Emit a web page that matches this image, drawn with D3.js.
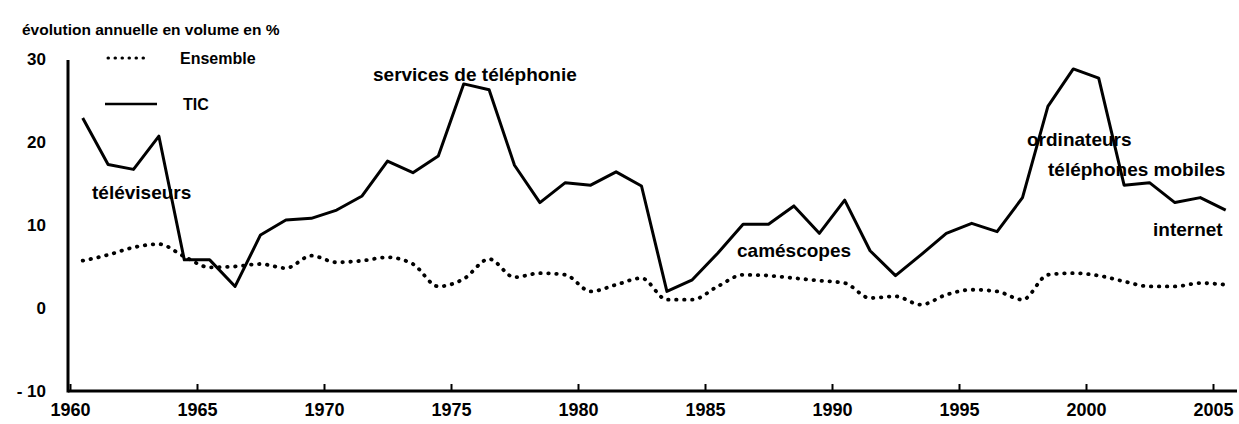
<!DOCTYPE html>
<html>
<head>
<meta charset="utf-8">
<script src="https://cdn.jsdelivr.net/npm/d3@7"></script>
<style>
  body { margin: 0; background: #fff; }
  svg { display: block; }
  text { font-family: "Liberation Sans", Arial, Helvetica, sans-serif; font-weight: bold; fill: #000; }
  .axis text { font-size: 18px; }
  .axis line { stroke: #000; stroke-width: 2; }
  .axis path { display: none; }
</style>
</head>
<body>
<div id="chart"></div>
<script>
// annual growth in volume, %, 1960-2005
var years = [1960, 1961, 1962, 1963, 1964, 1965, 1966, 1967, 1968, 1969,
  1970, 1971, 1972, 1973, 1974, 1975, 1976, 1977, 1978, 1979,
  1980, 1981, 1982, 1983, 1984, 1985, 1986, 1987, 1988, 1989,
  1990, 1991, 1992, 1993, 1994, 1995, 1996, 1997, 1998, 1999,
  2000, 2001, 2002, 2003, 2004, 2005];

var ticValues = [22.9, 17.3, 16.7, 20.7, 5.8, 5.8, 2.6, 8.8, 10.6, 10.8,
  11.8, 13.5, 17.7, 16.3, 18.3, 27.0, 26.3, 17.2, 12.7, 15.1,
  14.8, 16.4, 14.7, 2.0, 3.4, 6.6, 10.1, 10.1, 12.3, 9.0,
  13.0, 6.9, 3.9, 6.4, 9.0, 10.2, 9.2, 13.3, 24.3, 28.8,
  27.7, 14.8, 15.1, 12.7, 13.3, 11.8];

var ensembleValues = [5.7, 6.4, 7.3, 7.7, 6.2, 4.9, 5.0, 5.3, 4.8, 6.3,
  5.5, 5.7, 6.1, 5.3, 2.6, 3.5, 5.9, 3.7, 4.2, 4.0,
  2.0, 2.8, 3.6, 1.0, 1.0, 2.6, 4.0, 3.9, 3.6, 3.3,
  3.0, 1.2, 1.4, 0.4, 1.6, 2.2, 2.0, 1.0, 4.0, 4.2,
  3.9, 3.2, 2.6, 2.6, 3.0, 2.8];

var xTicks = [1960, 1965, 1970, 1975, 1980, 1985, 1990, 1995, 2000, 2005];
var yTicks = [-10, 0, 10, 20, 30];

var seriesNames = ["Ensemble", "TIC"];
var titleText = "évolution annuelle en volume en %";

var annotations = [
  { text: "services de téléphonie", x: 373, y: 81 },
  { text: "téléviseurs", x: 92, y: 199 },
  { text: "caméscopes", x: 737, y: 257 },
  { text: "ordinateurs", x: 1027, y: 146 },
  { text: "téléphones mobiles", x: 1048, y: 176 },
  { text: "internet", x: 1153, y: 236 }
];

var width = 1239, height = 424;

var x = d3.scaleLinear().domain([1960, 2005]).range([70, 1213]);
var y = d3.scaleLinear().domain([-10, 30]).range([391, 59]);

var svg = d3.select("#chart").append("svg")
  .attr("width", width)
  .attr("height", height);

// title
svg.append("text")
  .attr("x", 22)
  .attr("y", 35)
  .style("font-size", "15.5px")
  .text(titleText);

// axes lines
svg.append("line")
  .attr("x1", 68).attr("x2", 68)
  .attr("y1", 60).attr("y2", y(-10) + 1.5)
  .style("stroke", "#000").style("stroke-width", 3);

svg.append("line")
  .attr("x1", 68).attr("x2", 1237)
  .attr("y1", y(-10)).attr("y2", y(-10))
  .style("stroke", "#000").style("stroke-width", 3);

var xAxis = d3.axisBottom(x)
  .tickValues(xTicks)
  .tickFormat(d3.format("d"))
  .tickSize(-7)
  .tickPadding(12);

svg.append("g")
  .attr("class", "x axis")
  .attr("transform", "translate(0," + y(-10) + ")")
  .call(xAxis);

var yAxis = d3.axisLeft(y)
  .tickValues(yTicks)
  .tickFormat(function (d) { return d < 0 ? "- " + Math.abs(d) : d; })
  .tickSize(0)
  .tickPadding(22);

svg.append("g")
  .attr("class", "y axis")
  .attr("transform", "translate(68,0)")
  .call(yAxis)
  .selectAll("text")
  .style("font-size", "17px");

// series
var ensembleData = years.map(function (d, i) { return { year: d, value: ensembleValues[i] }; });
var ticData = years.map(function (d, i) { return { year: d, value: ticValues[i] }; });

var smoothLine = d3.line()
  .x(function (d) { return x(d.year + 0.5); })
  .y(function (d) { return y(d.value); })
  .curve(d3.curveMonotoneX);

var straightLine = d3.line()
  .x(function (d) { return x(d.year + 0.5); })
  .y(function (d) { return y(d.value); });

svg.append("path")
  .datum(ensembleData)
  .attr("d", smoothLine)
  .style("fill", "none")
  .style("stroke", "#000")
  .style("stroke-width", 3.8)
  .style("stroke-linecap", "round")
  .style("stroke-dasharray", "0.5 7.5");

svg.append("path")
  .datum(ticData)
  .attr("d", straightLine)
  .style("fill", "none")
  .style("stroke", "#000")
  .style("stroke-width", 3)
  .style("stroke-linejoin", "round");

// legend
svg.append("line")
  .attr("x1", 108).attr("x2", 150)
  .attr("y1", 58).attr("y2", 58)
  .style("stroke", "#000")
  .style("stroke-width", 3)
  .style("stroke-linecap", "round")
  .style("stroke-dasharray", "0.5 6.5");

svg.append("line")
  .attr("x1", 105).attr("x2", 157)
  .attr("y1", 104).attr("y2", 104)
  .style("stroke", "#000")
  .style("stroke-width", 2.5);

svg.selectAll("legendlabels")
  .data(seriesNames)
  .enter()
  .append("text")
  .attr("x", function (d, i) { return i == 0 ? 180 : 183; })
  .attr("y", function (d, i) { return i == 0 ? 64 : 110; })
  .style("font-size", "16px")
  .text(function (d) { return d; });

// labels on the curves
svg.selectAll("annot")
  .data(annotations)
  .enter()
  .append("text")
  .attr("x", function (d) { return d.x; })
  .attr("y", function (d) { return d.y; })
  .style("font-size", "19px")
  .text(function (d) { return d.text; });
</script>
</body>
</html>
